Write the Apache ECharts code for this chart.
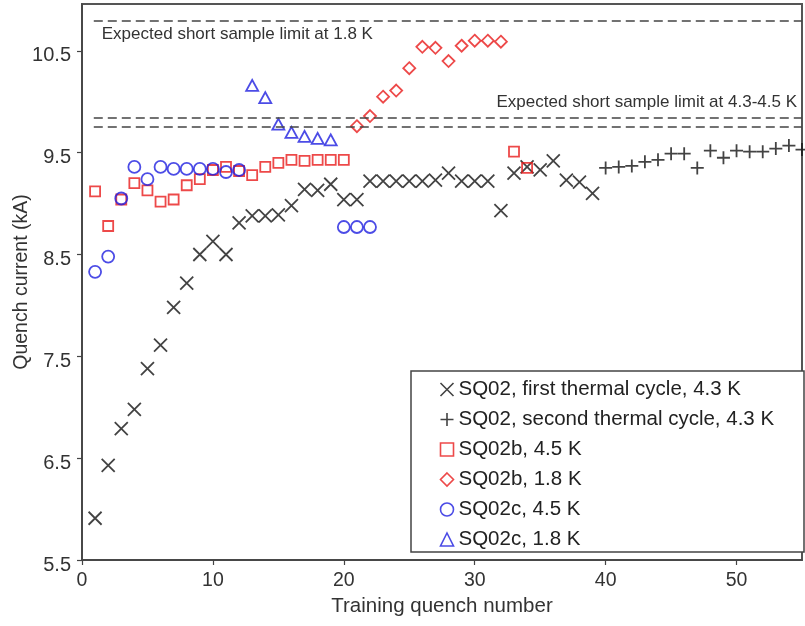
<!DOCTYPE html>
<html>
<head>
<meta charset="utf-8">
<script src="https://cdn.jsdelivr.net/npm/echarts@6/dist/echarts.min.js"></script>
<style>
  html, body { margin: 0; padding: 0; background: #fff; }
  #chart { width: 805px; height: 626px; }
</style>
</head>
<body>
<div id="chart"></div>
<script>
// SQ02, first thermal cycle, 4.3 K
const firstCycleN = [1,2,3,4,5,6,7,8,9,10,11,12,13,14,15,16,17,18,19,20,21,22,23,24,25,26,27,28,29,30,31,32,33,34,35,36,37,38,39];
const firstCycleI = [5.91,6.43,6.79,6.98,7.38,7.61,7.98,8.22,8.50,8.63,8.50,8.81,8.88,8.88,8.89,8.98,9.14,9.13,9.19,9.04,9.04,9.22,9.22,9.22,9.22,9.22,9.23,9.30,9.22,9.22,9.22,8.93,9.30,9.36,9.33,9.42,9.23,9.21,9.10];

// SQ02, second thermal cycle, 4.3 K
const secondCycleN = [40,41,42,43,44,45,46,47,48,49,50,51,52,53,54,55];
const secondCycleI = [9.35,9.36,9.37,9.41,9.43,9.49,9.49,9.35,9.52,9.45,9.52,9.51,9.51,9.54,9.57,9.53];

// SQ02b, 4.5 K
const sq02b45N = [1,2,3,4,5,6,7,8,9,10,11,12,13,14,15,16,17,18,19,20,33,34];
const sq02b45I = [9.12,8.78,9.04,9.20,9.13,9.02,9.04,9.18,9.24,9.33,9.36,9.32,9.28,9.36,9.40,9.43,9.42,9.43,9.43,9.43,9.51,9.35];

// SQ02b, 1.8 K
const sq02b18N = [21,22,23,24,25,26,27,28,29,30,31,32];
const sq02b18I = [9.76,9.86,10.05,10.11,10.33,10.54,10.53,10.40,10.55,10.60,10.60,10.59];

// SQ02c, 4.5 K
const sq02c45N = [1,2,3,4,5,6,7,8,9,10,11,12,20,21,22];
const sq02c45I = [8.33,8.48,9.05,9.36,9.24,9.36,9.34,9.34,9.34,9.34,9.31,9.33,8.77,8.77,8.77];

// SQ02c, 1.8 K
const sq02c18N = [13,14,15,16,17,18,19];
const sq02c18I = [10.16,10.04,9.78,9.70,9.66,9.64,9.625];

// Expected short sample limits (kA)
const limit18K = 10.80;
const limit45K = [9.84, 9.75];
const limitText18K = 'Expected short sample limit at 1.8 K';
const limitText45K = 'Expected short sample limit at 4.3-4.5 K';

const seriesNames = [
  'SQ02, first thermal cycle, 4.3 K',
  'SQ02, second thermal cycle, 4.3 K',
  'SQ02b, 4.5 K',
  'SQ02b, 1.8 K',
  'SQ02c, 4.5 K',
  'SQ02c, 1.8 K'
];

const xTicks = [0, 10, 20, 30, 40, 50];
const yTicks = [5.5, 6.5, 7.5, 8.5, 9.5, 10.5];

const FONT = 'Liberation Sans, Arial, sans-serif';
const BLACK = '#141414';
const RED = '#e81c1c';
const BLUE = '#1f1fe0';

const zip = (n, v) => n.map((x, i) => [x, v[i]]);

const crossPath = 'path://M0,0L10,10M10,0L0,10';
const plusPath = 'path://M5,0L5,10M0,5L10,5';

function outlined(color, width) {
  return { color: 'none', borderColor: color, borderWidth: width };
}

const chart = echarts.init(document.getElementById('chart'), null, { renderer: 'canvas' });

const dashStyle = { color: '#444', width: 1.6, type: [9, 5] };
const noteStyle = { fontSize: 17, color: '#333', fontFamily: FONT };

chart.setOption({
  animation: false,
  backgroundColor: '#fff',
  grid: {
    left: 82, right: 3, top: 4, bottom: 66,
    outerBoundsMode: 'none', containLabel: false,
    show: true, borderColor: '#555', borderWidth: 2, backgroundColor: 'transparent'
  },
  xAxis: {
    type: 'value', min: 0, max: 55, interval: 10,
    name: 'Training quench number', nameLocation: 'middle', nameGap: 36, nameMoveOverlap: false,
    nameTextStyle: { fontSize: 20.5, color: '#333', fontFamily: FONT },
    axisLine: { show: true, lineStyle: { color: '#444', width: 1.5 } },
    axisTick: { show: true, inside: false, length: 5, lineStyle: { color: '#444', width: 1.2 } },
    axisLabel: {
      fontSize: 19.5, color: '#333', fontFamily: FONT, margin: 11, showMaxLabel: false,
      formatter: v => (xTicks.includes(v) ? String(v) : '')
    },
    splitLine: { show: false }
  },
  yAxis: {
    type: 'value', min: 5.5, max: 10.96, interval: 1,
    name: 'Quench current (kA)', nameLocation: 'middle', nameGap: 50, nameMoveOverlap: false,
    nameTextStyle: { fontSize: 19.5, color: '#333', fontFamily: FONT },
    axisLine: { show: true, lineStyle: { color: '#444', width: 1.5 } },
    axisTick: { show: true, inside: false, length: 5, lineStyle: { color: '#444', width: 1.2 } },
    axisLabel: {
      fontSize: 20, color: '#333', fontFamily: FONT, margin: 11, showMaxLabel: false,
      verticalAlign: 'top', lineHeight: 10,
      formatter: v => {
        const hit = yTicks.find(t => Math.abs(t - v) < 1e-6);
        return hit === undefined ? '' : hit.toFixed(1);
      }
    },
    splitLine: { show: false }
  },
  legend: {
    orient: 'vertical', left: 438, top: 379, padding: 0,
    itemWidth: 13, itemHeight: 13, itemGap: 9,
    textStyle: { fontSize: 20.5, lineHeight: 20, color: '#222', fontFamily: FONT },
    itemStyle: { borderWidth: 1.6 },
    data: seriesNames, z: 10
  },
  graphic: [{
    type: 'rect', z: 3, silent: true,
    shape: { x: 411, y: 371, width: 393, height: 181 },
    style: { fill: '#fff', stroke: '#444', lineWidth: 1.5 }
  }],
  series: [
    {
      name: seriesNames[0], type: 'scatter', data: zip(firstCycleN, firstCycleI),
      symbol: crossPath, symbolSize: 13, itemStyle: outlined(BLACK, 1.8), z: 4,
      markLine: {
        silent: true, symbol: 'none', lineStyle: dashStyle,
        data: [
          [
            { coord: [0.9, limit18K], label: Object.assign({ show: true, position: 'insideStartBottom', formatter: limitText18K, distance: [8, 6] }, noteStyle) },
            { coord: [55, limit18K] }
          ],
          [
            { coord: [0.9, limit45K[0]], label: Object.assign({ show: true, position: 'insideEndTop', formatter: limitText45K, distance: [5, 7] }, noteStyle) },
            { coord: [55, limit45K[0]] }
          ],
          [
            { coord: [0.9, limit45K[1]], label: { show: false } },
            { coord: [55, limit45K[1]] }
          ]
        ]
      }
    },
    {
      name: seriesNames[1], type: 'scatter', data: zip(secondCycleN, secondCycleI),
      symbol: plusPath, symbolSize: 13, itemStyle: outlined(BLACK, 1.8), z: 4
    },
    {
      name: seriesNames[2], type: 'scatter', data: zip(sq02b45N, sq02b45I),
      symbol: 'rect', symbolSize: 10, itemStyle: outlined(RED, 1.8), z: 4
    },
    {
      name: seriesNames[3], type: 'scatter', data: zip(sq02b18N, sq02b18I),
      symbol: 'diamond', symbolSize: 12, itemStyle: outlined(RED, 1.8), z: 4
    },
    {
      name: seriesNames[4], type: 'scatter', data: zip(sq02c45N, sq02c45I),
      symbol: 'circle', symbolSize: 12, itemStyle: outlined(BLUE, 1.8), z: 4
    },
    {
      name: seriesNames[5], type: 'scatter', data: zip(sq02c18N, sq02c18I),
      symbol: 'triangle', symbolSize: [12, 11], itemStyle: outlined(BLUE, 1.8), z: 4
    }
  ]
});
</script>
</body>
</html>
